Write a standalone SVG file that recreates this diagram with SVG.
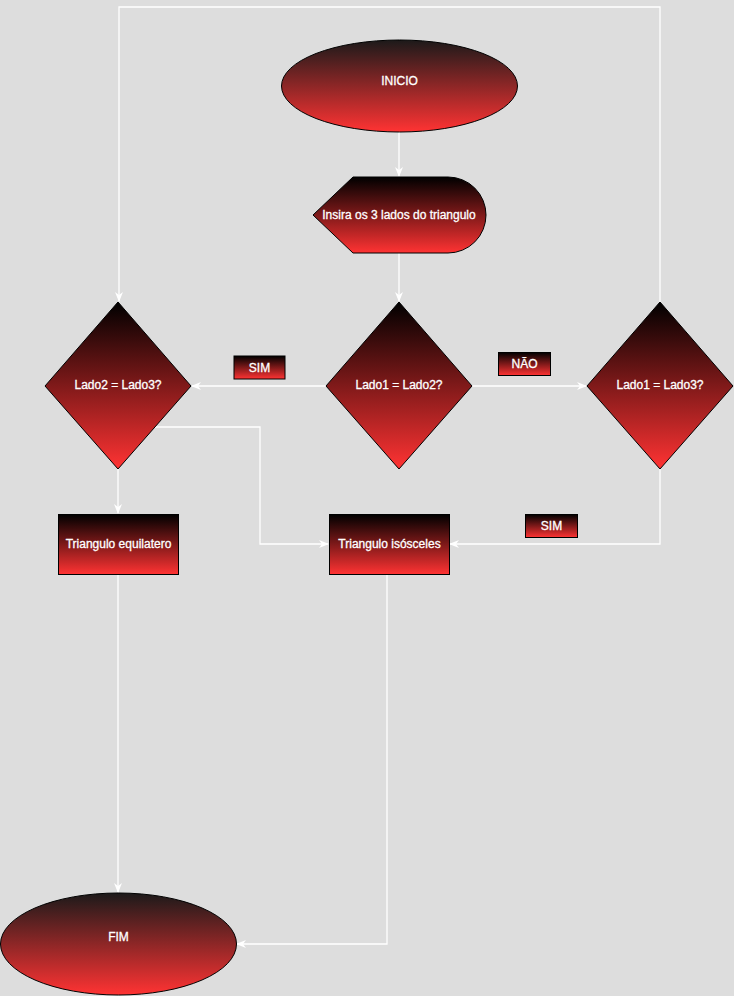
<svg xmlns="http://www.w3.org/2000/svg" width="734" height="996" viewBox="0 0 734 996">
  <defs>
    <linearGradient id="fillRed" x1="0" y1="0" x2="0" y2="1">
      <stop offset="0" stop-color="#000000"/>
      <stop offset="1" stop-color="#ff3333"/>
    </linearGradient>
    <linearGradient id="fillRedSoft" x1="0" y1="0" x2="0" y2="1">
      <stop offset="0" stop-color="#1c1a1a"/>
      <stop offset="1" stop-color="#ff3333"/>
    </linearGradient>
    <marker id="arrow" viewBox="0 0 10 10" refX="9" refY="5" markerWidth="10" markerHeight="10" markerUnits="userSpaceOnUse" orient="auto">
      <path d="M0,1 L10,5 L0,9 L3,5 Z" fill="#ffffff"/>
    </marker>
  </defs>
  <style>
    .shape { fill: url(#fillRed); stroke: #000000; stroke-width: 1; }
    .terminal { fill: url(#fillRedSoft); stroke: #000000; stroke-width: 1; }
    .label { font-family: "Liberation Sans", Arial, sans-serif; font-size: 12px; fill: #ffffff; text-anchor: middle; dominant-baseline: central; stroke: #ffffff; stroke-width: 0.3; }
    .edge { fill: none; stroke: #ffffff; stroke-width: 1.3; marker-end: url(#arrow); }
  </style>

  <rect width="734" height="996" fill="#dddddd"/>

  <g id="connectors">
    <path class="edge" d="M399,132 L399,176"/>
    <path class="edge" d="M399,253 L399,301"/>
    <path class="edge" d="M326,386 L192,386"/>
    <path class="edge" d="M472,386 L586,386"/>
    <path class="edge" d="M660,302 L660,7 L119,7 L119,301"/>
    <path class="edge" d="M660,469 L660,544 L450,544"/>
    <path class="edge" d="M155,427 L260,427 L260,544 L328,544"/>
    <path class="edge" d="M118,469 L118,513"/>
    <path class="edge" d="M118,574 L118,892"/>
    <path class="edge" d="M387,574 L387,944 L237,944"/>
  </g>

  <g id="inicio">
    <ellipse class="terminal" cx="399.5" cy="86" rx="118" ry="46"/>
    <text class="label" x="399.5" y="81">INICIO</text>
  </g>

  <g id="entrada">
    <path class="shape" d="M353,177 L448,177 A38,38 0 0 1 448,253 L353,253 L313,215 Z"/>
    <text class="label" x="399" y="215">Insira os 3 lados do triangulo</text>
  </g>

  <g id="lado1-lado2">
    <path class="shape" d="M399,302 L472,386 L399,469 L326,386 Z"/>
    <text class="label" x="399" y="385">Lado1 = Lado2?</text>
  </g>

  <g id="lado2-lado3">
    <path class="shape" d="M118,302 L191,386 L118,469 L45,386 Z"/>
    <text class="label" x="118" y="385">Lado2 = Lado3?</text>
  </g>

  <g id="lado1-lado3">
    <path class="shape" d="M660,302 L733,386 L660,469 L587,386 Z"/>
    <text class="label" x="660" y="385">Lado1 = Lado3?</text>
  </g>

  <g id="sim-esquerda">
    <rect class="shape" x="234" y="356" width="51" height="23"/>
    <text class="label" x="259.5" y="367.5">SIM</text>
  </g>

  <g id="nao">
    <rect class="shape" x="498.5" y="352.5" width="52" height="23"/>
    <text class="label" x="524.5" y="363.5">NÃO</text>
  </g>

  <g id="sim-direita">
    <rect class="shape" x="525.5" y="514.5" width="52" height="23"/>
    <text class="label" x="551.5" y="525.5">SIM</text>
  </g>

  <g id="equilatero">
    <rect class="shape" x="58.5" y="514.5" width="120" height="60"/>
    <text class="label" x="118.5" y="544">Triangulo equilatero</text>
  </g>

  <g id="isosceles">
    <rect class="shape" x="329.5" y="514.5" width="120" height="60"/>
    <text class="label" x="389.5" y="544">Triangulo isósceles</text>
  </g>

  <g id="fim">
    <ellipse class="terminal" cx="118.5" cy="944" rx="118" ry="51"/>
    <text class="label" x="118.5" y="937">FIM</text>
  </g>
</svg>
